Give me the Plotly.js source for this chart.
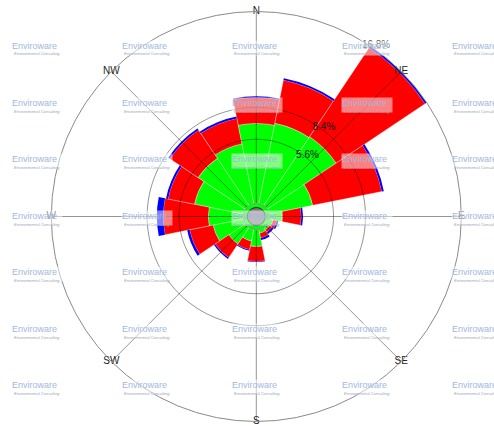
<!DOCTYPE html>
<html>
<head>
<meta charset="utf-8">
<script src="https://cdn.plot.ly/plotly-3.0.1.min.js"></script>
<style>html,body{margin:0;padding:0;background:#fff}#chart{width:494px;height:426px}</style>
</head>
<body>
<div id="chart"></div>
<script>
// ---- data ----
const directions = ['N','NNE','NE','ENE','E','ESE','SE','SSE','S','SSW','SW','WSW','W','WNW','NW','NNW'];
const speedClass1 = [6.99, 7.16, 7.25, 3.87, 1.11, 0.32, 0.24, 0.32, 1.46, 1.03, 1.73, 2.69, 3.04, 4.36, 4.97, 5.32]; // green
const speedClass2 = [2.27, 3.86, 9.38, 6.18, 1.67, 0.35, 0.26, 0.44, 1.32, 0.78, 1.44, 2.10, 3.95, 2.36, 2.98, 2.28]; // red
const speedClass3 = [0.10, 0.17, 0.17, 0.18, 0.15, 0.14, 0.17, 0.18, 0.05, 0.09, 0.13, 0.22, 0.56, 0.18, 0.17, 0.17]; // blue
const compassLabels = ['N','NE','E','SE','S','SW','W','NW'];
const ringValues = [5.6, 8.4];
const ringLabelValues = [5.6, 8.4, 16.8];
const ringLabels = ['5.6%', '8.4%', '16.8%'];
const rMax = 16.8;

// ---- geometry helpers (positions only) ----
const sector = 360 / directions.length;
const theta = directions.map((d, i) => i * sector);
const compassTheta = compassLabels.map((d, i) => i * 360 / compassLabels.length);

const W = 494, H = 426;
const cx = 256.3, cy = 216.5, R = 205;
const FONT = '"Liberation Sans", Arial, sans-serif';

const barLine = {color: 'rgba(255,255,255,0.55)', width: 0.6};
const traces = [
  {type: 'barpolar', r: speedClass1, theta: theta, width: sector, marker: {color: '#00ff00', line: barLine}, hoverinfo: 'skip'},
  {type: 'barpolar', r: speedClass2, theta: theta, width: sector, marker: {color: '#ff0000', line: barLine}, hoverinfo: 'skip'},
  {type: 'barpolar', r: speedClass3, theta: theta, width: sector, marker: {color: '#0000ff', line: {width: 0}}, hoverinfo: 'skip'}
];

// grid drawn over the bars
const gridColor = 'rgba(0,0,0,0.42)';
ringValues.forEach(v => {
  const th = [], rr = [];
  for (let a = 0; a <= 360; a += 2) { th.push(a); rr.push(v); }
  traces.push({type: 'scatterpolar', mode: 'lines', r: rr, theta: th, line: {color: gridColor, width: 1}, hoverinfo: 'skip'});
});
compassTheta.forEach(a => {
  traces.push({type: 'scatterpolar', mode: 'lines', r: [0, rMax], theta: [a, a], line: {color: gridColor, width: 1}, hoverinfo: 'skip'});
});
// compass labels on the outer circle
traces.push({type: 'scatterpolar', mode: 'text', r: compassTheta.map(() => rMax), theta: compassTheta, text: compassLabels,
  textposition: 'middle center', cliponaxis: false,
  textfont: {family: FONT, size: 10, color: '#222'}, hoverinfo: 'skip'});
// ring labels
traces.push({type: 'scatterpolar', mode: 'text', r: ringLabelValues, theta: ringLabelValues.map(() => 31), text: ringLabels,
  textposition: 'bottom right', cliponaxis: false,
  textfont: {family: FONT, size: 10, color: '#111'}, hoverinfo: 'skip'});

// watermark annotations
const annotations = [];
const colsX = [11, 121, 231, 341, 451];
const rowsY = [40, 97, 153, 210, 266, 323, 379];
rowsY.forEach(y => colsX.forEach(x => {
  annotations.push({xref: 'paper', yref: 'paper', x: x / W, y: 1 - y / H, xanchor: 'left', yanchor: 'top',
    text: 'Enviroware', showarrow: false, width: 50, height: 14, align: 'left', valign: 'top',
    bgcolor: 'rgba(255,255,255,0.5)', borderpad: 0,
    font: {family: FONT, size: 9, color: '#a2b7df'}});
  annotations.push({xref: 'paper', yref: 'paper', x: (x + 1) / W, y: 1 - (y + 9.5) / H, xanchor: 'left', yanchor: 'top',
    text: '<i>Environmental Consulting</i>', showarrow: false,
    font: {family: FONT, size: 4, color: '#9aa6bb'}});
}));

const layout = {
  width: W, height: H,
  margin: {l: 0, r: 0, t: 0, b: 0},
  paper_bgcolor: '#fff',
  showlegend: false,
  polar: {
    domain: {x: [(cx - R) / W, (cx + R) / W], y: [(H - cy - R) / H, (H - cy + R) / H]},
    bgcolor: 'rgba(0,0,0,0)',
    hole: 0.065,
    barmode: 'stack',
    bargap: 0,
    radialaxis: {range: [0, rMax], tickvals: ringValues, showticklabels: false, ticks: '', showline: false,
      showgrid: false},
    angularaxis: {rotation: 90, direction: 'clockwise', tickvals: compassTheta, showticklabels: false, ticks: '',
      showgrid: false, showline: true, linecolor: '#8a8a8a', linewidth: 1}
  },
  shapes: [
    {type: 'circle', xref: 'paper', yref: 'paper', layer: 'below',
      x0: (cx - 13.3) / W, x1: (cx + 13.3) / W, y0: (H - cy - 13.3) / H, y1: (H - cy + 13.3) / H,
      fillcolor: '#00ff00', line: {width: 0}},
    {type: 'circle', xref: 'paper', yref: 'paper', layer: 'above',
      x0: (cx - 9) / W, x1: (cx + 9) / W, y0: (H - cy - 9) / H, y1: (H - cy + 9) / H,
      fillcolor: '#7a7a7a', line: {color: '#222', width: 1}}
  ],
  annotations: annotations
};

Plotly.newPlot('chart', traces, layout, {staticPlot: true, displayModeBar: false});
</script>
</body>
</html>
